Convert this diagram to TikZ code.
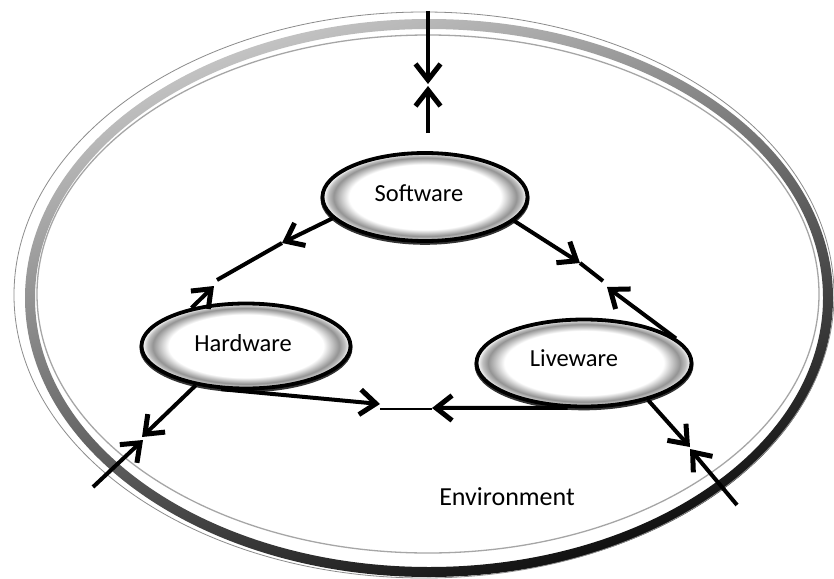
\documentclass[tikz,border=0pt]{standalone}
\usepackage{fontspec}
\setmainfont{Carlito}
\usetikzlibrary{arrows.meta,shapes.geometric}

% grey bevel inside the component ellipses
\pgfdeclareradialshading{bevelshade}{\pgfpoint{0bp}{0bp}}{%
  color(0bp)=(white); color(18.5bp)=(white); color(22.3bp)=(black!42);
  color(23.6bp)=(black!25); color(24.5bp)=(black!5); color(25bp)=(white);
  color(50bp)=(white)}

\begin{document}
\begin{tikzpicture}[x=1pt,y=-1pt,
  unit/.style={ellipse, draw=black, line width=3.8pt, shading=bevelshade,
    inner sep=0pt},
  unitshadow/.style={draw=black!80, line width=4pt},
  flow/.style={line width=4pt, line join=round,
    -{Straight Barb[length=16pt,width=25pt,line width=5pt]}},
  link/.style={line width=4pt},
  thinlink/.style={line width=2.4pt},
  lbl/.style={font=\fontsize{24.5}{29}\selectfont},
  envlbl/.style={font=\fontsize{26}{31}\selectfont}]

\useasboundingbox (0,0) rectangle (834,578);
\fill[white] (0,0) rectangle (834,578);

% environment ring
\shade[even odd rule, top color=black!22, bottom color=black!95, shading angle=20]
  (429,298) ellipse [x radius=404pt, y radius=279pt]
  (429,298) ellipse [x radius=394pt, y radius=269pt];
\draw[black!45, line width=0.8pt] (424,295) ellipse [x radius=410pt, y radius=283pt];
\draw[black!35, line width=1.3pt] (428,294) ellipse [x radius=391pt, y radius=259pt];

% shadows under the components
\draw[unitshadow] (425,198.8) ellipse [x radius=102.5pt, y radius=44pt];
\draw[unitshadow] (246,347.8) ellipse [x radius=104.5pt, y radius=42.5pt];
\draw[unitshadow] (584,364.8) ellipse [x radius=107.5pt, y radius=43.5pt];

% components
\node[unit, minimum width=205pt, minimum height=88pt] (soft) at (425,197) {};
\node[unit, minimum width=209pt, minimum height=85pt] (hard) at (246,346) {};
\node[unit, minimum width=215pt, minimum height=87pt] (live) at (584,363) {};

\node[lbl] (softtxt) at (419,193) {Software};
\node[lbl] (hardtxt) at (243,343) {Hardware};
\node[lbl] (livetxt) at (574,358) {Liveware};
\node[envlbl] (envtxt) at (507,497) {Environment};

% end points of the connectors
\coordinate (topout) at (428,11);
\coordinate (topmeetA) at (428,84);
\coordinate (topmeetB) at (428,86);
\coordinate (topin) at (428,133);
\coordinate (sh1) at (282,243);
\coordinate (sh2) at (217,280);
\coordinate (hs1) at (214,286);
\coordinate (sl1) at (580,263);
\coordinate (sl2) at (603,281);
\coordinate (ls1) at (607,287);
\coordinate (hl1) at (380,404);
\coordinate (mid1) at (380,409);
\coordinate (mid2) at (432,409);
\coordinate (lh1) at (432,408);
\coordinate (he1) at (142,437);
\coordinate (he2) at (143,440);
\coordinate (heout) at (93,487);
\coordinate (le1) at (690,447);
\coordinate (le2) at (690,449);
\coordinate (leout) at (737,505);

% connectors
\draw[flow] (topout) -- (topmeetA);
\draw[flow] (topin) -- (topmeetB);

\draw[flow] (soft.193) -- (sh1);
\draw[link] (sh1) -- (sh2);
\draw[flow] (hard.145) -- (hs1);

\draw[flow] (soft.345) -- (sl1);
\draw[link] (sl1) -- (sl2);
\draw[flow] (live.15) -- (ls1);

\draw[flow] (hard.240) -- (hl1);
\draw[thinlink] (mid1) -- (mid2);
\draw[flow] (live.250) -- (lh1);

\draw[flow] (hard.218) -- (he1);
\draw[flow] (heout) -- (he2);

\draw[flow] (live.330) -- (le1);
\draw[flow] (leout) -- (le2);
\end{tikzpicture}
\end{document}
